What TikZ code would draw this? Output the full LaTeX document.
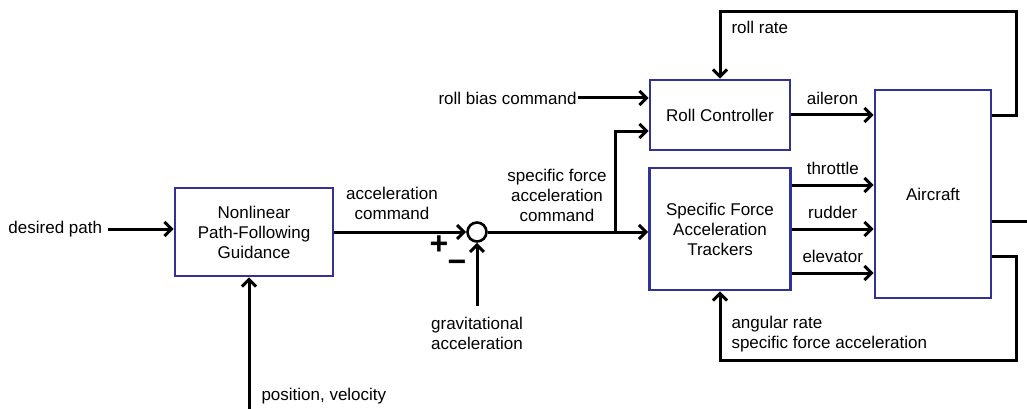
\documentclass[tikz,border=0pt]{standalone}
\usepackage{fontspec}
\setmainfont{Liberation Sans}
\usetikzlibrary{arrows.meta}
\definecolor{boxblue}{RGB}{50,50,150}

\begin{document}
\begin{tikzpicture}[x=1pt,y=-1pt,line width=3pt,
  font=\fontsize{17}{20}\selectfont,
  blk/.style={draw=boxblue,fill=white,line width=2.8pt,align=center,inner sep=0pt},
  sig/.style={-{Straight Barb[length=7pt,width=14pt]}},
  lbl/.style={inner sep=0pt,align=center},
  sgn/.style={inner sep=0pt,font=\fontsize{32}{32}\selectfont\bfseries}]
\useasboundingbox (0,0) rectangle (1027,409);
%%%%%%%%%%%%%%%%%%%% guidance and summing junction %%%%%%%%%%%%%%%%%%%%
  \node[blk,minimum width=158pt,minimum height=88pt] (guid) at (254,232) {Nonlinear\\Path-Following\\Guidance};
  \node[draw,circle,minimum size=19pt,inner sep=0pt,line width=2.6pt] (sum) at (477,232) {};
  \node[lbl,anchor=west] (dp) at (7,229) {desired path};
  \draw[sig] ([xshift=4pt]dp.east) -- (guid.west |- dp.east);
  \coordinate (pv) at (249,409);
  \draw[sig] (pv) -- (pv |- guid.south);
  \node[lbl,anchor=west] (pvl) at (260,396) {position, velocity};
  \draw[sig] (guid.east |- sum) -- (sum.west);
  \node[lbl] (acc) at (392,203) {acceleration\\command};
  \node[sgn] (plus) at (439,245) {+};
  \node[sgn] (minus) at (457,266) {−};
  \node[lbl] (grav) at (477,333) {gravitational\\acceleration};
  \draw[sig] ([yshift=9pt]grav.north) -- (sum.south);
%%%%%%%%%%%%%%%%%%%% inner loops %%%%%%%%%%%%%%%%%%%%
  \node[blk,minimum width=140pt,minimum height=70pt] (roll) at (720,115) {Roll Controller};
  \node[blk,minimum width=141pt,minimum height=122pt] (sfat) at (720,229) {Specific Force\\Acceleration\\Trackers};
  \node[blk,minimum width=116pt,minimum height=208pt] (acft) at (933,194) {Aircraft};
  \node[lbl] (sfc) at (557,195) {specific force\\acceleration\\command};
  \coordinate (br) at (615,232);
  \draw[sig] (sum.east) -- (sfat.west |- sum);
  \draw[sig] (br) |- ([yshift=-16pt]roll.west);
  \node[lbl,anchor=east] (rb) at (578,98) {roll bias command};
  \draw[sig] (rb.east) -- (roll.west |- rb.east);
  \draw[sig] (roll.east) -- (acft.west |- roll.east) node[midway,above=9pt,lbl] (ail) {aileron};
  \foreach \dy/\sname in {44/throttle,0/rudder,-44/elevator}
    \draw[sig] ([yshift=\dy pt]sfat.east) -- ([yshift=\dy pt]sfat.east -| acft.west)
      node[midway,above=9pt,lbl] (\sname) {\sname};
%%%%%%%%%%%%%%%%%%%% feedback paths %%%%%%%%%%%%%%%%%%%%
  \coordinate (rtop) at (1016,12);
  \draw[sig] ([yshift=78pt]acft.east) -| (rtop) -| (roll.north);
  \node[lbl,anchor=west] (rr) at (730,27) {roll rate};
  \coordinate (yout) at (1027,221);
  \draw (yout -| acft.east) -- (yout);
  \coordinate (fb) at (1016,360);
  \draw[sig] ([yshift=-62pt]acft.east) -| (fb) -| (sfat.south);
  \node[lbl,anchor=west,align=left] (ar) at (730,334) {angular rate\\specific force acceleration};
\end{tikzpicture}
\end{document}
